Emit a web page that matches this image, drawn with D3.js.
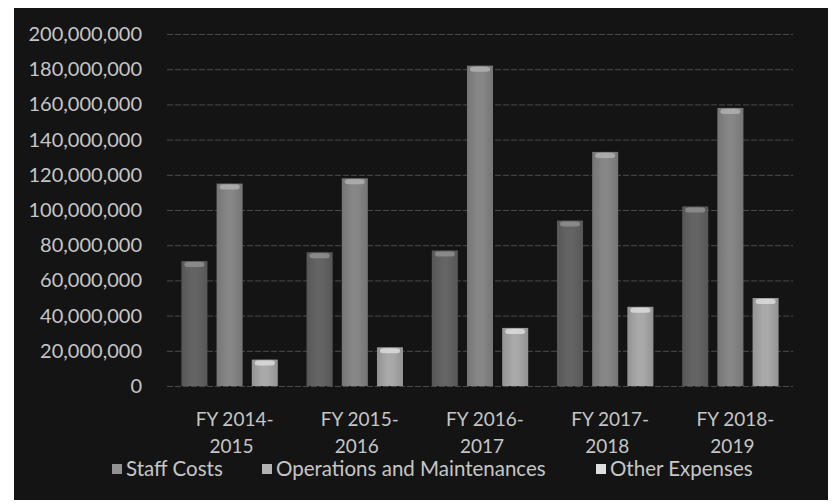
<!DOCTYPE html>
<html>
<head>
<meta charset="utf-8">
<script src="https://cdn.jsdelivr.net/npm/d3@7"></script>
<style>
  body { margin: 0; background: #ffffff; }
  svg { display: block; }
</style>
</head>
<body>
<div id="chart"></div>
<script>
const years = ["FY 2014-2015", "FY 2015-2016", "FY 2016-2017", "FY 2017-2018", "FY 2018-2019"];
const seriesNames = ["Staff Costs", "Operations and Maintenances", "Other Expenses"];
const staffCosts = [71000000, 76000000, 77000000, 94000000, 102000000];
const operations = [115000000, 118000000, 182000000, 133000000, 158000000];
const otherExpenses = [15000000, 22000000, 33000000, 45000000, 50000000];
const yTicks = [0, 20000000, 40000000, 60000000, 80000000, 100000000, 120000000, 140000000, 160000000, 180000000, 200000000];

const width = 838, height = 504;
const margin = { top: 34, right: 45, bottom: 118, left: 167 };
const innerWidth = width - margin.left - margin.right;
const innerHeight = height - margin.top - margin.bottom;

const barColors = ["#646464", "#878787", "#a9a9a9"];
const capColors = ["#929292", "#b3b3b3", "#dedede"];
const textColor = "#c6c6c6";
const fontFamily = "Lato, 'Open Sans', sans-serif";

const values = [staffCosts, operations, otherExpenses];
const rows = years.map((y, i) => ({ year: y, vals: values.map((v, s) => ({ s, v: v[i] })) }));

const svg = d3.select("#chart").append("svg")
    .attr("width", width)
    .attr("height", height);

// dark backdrop of the photo
svg.append("rect")
    .attr("x", 14).attr("y", 8)
    .attr("width", 814).attr("height", 492)
    .attr("fill", "#141414");

const defs = svg.append("defs");
barColors.forEach((c, i) => {
    const g = defs.append("linearGradient")
        .attr("id", "bar" + i)
        .attr("x1", "0").attr("x2", "1").attr("y1", "0").attr("y2", "0");
    g.append("stop").attr("offset", "0%").attr("stop-color", d3.color(c).darker(0.4));
    g.append("stop").attr("offset", "40%").attr("stop-color", c);
    g.append("stop").attr("offset", "60%").attr("stop-color", c);
    g.append("stop").attr("offset", "100%").attr("stop-color", d3.color(c).darker(0.4));
});

const chart = svg.append("g")
    .attr("transform", `translate(${margin.left},${margin.top})`);

const y = d3.scaleLinear()
    .domain([0, 200000000])
    .range([innerHeight, 0]);

const x0 = d3.scaleBand()
    .domain(years)
    .range([0, innerWidth])
    .paddingInner(0.23)
    .paddingOuter(0.115);

const x1 = d3.scaleBand()
    .domain(d3.range(seriesNames.length))
    .range([0, x0.bandwidth()])
    .paddingInner(0.26);

// gridlines
chart.append("g")
    .call(d3.axisLeft(y).tickValues(yTicks).tickSize(-innerWidth).tickFormat(""))
    .call(g => g.select(".domain").remove())
    .call(g => g.selectAll("line")
        .attr("stroke", "#4a4a4a")
        .attr("stroke-width", 1)
        .attr("stroke-dasharray", "6,2"));

// y labels
chart.append("g")
    .call(d3.axisLeft(y).tickValues(yTicks).tickSize(0).tickPadding(25).tickFormat(d3.format(",")))
    .call(g => g.select(".domain").remove())
    .call(g => g.selectAll("text")
        .attr("fill", textColor)
        .style("font-family", fontFamily)
        .style("font-size", "20px"));

// bars
const groups = chart.selectAll(".grp")
    .data(rows)
    .enter().append("g")
    .attr("class", "grp")
    .attr("transform", d => `translate(${x0(d.year)},0)`);

groups.selectAll("rect.bar")
    .data(d => d.vals)
    .enter().append("rect")
    .attr("class", "bar")
    .attr("x", d => x1(d.s))
    .attr("y", d => y(d.v))
    .attr("width", x1.bandwidth())
    .attr("height", d => innerHeight - y(d.v))
    .attr("fill", d => `url(#bar${d.s})`);

groups.selectAll("rect.cap")
    .data(d => d.vals)
    .enter().append("rect")
    .attr("class", "cap")
    .attr("x", d => x1(d.s) + 3)
    .attr("y", d => y(d.v) + 1)
    .attr("width", x1.bandwidth() - 6)
    .attr("height", 5)
    .attr("rx", 3)
    .attr("fill", d => capColors[d.s])
    .attr("opacity", 0.8);

// category labels, two lines each
const xAxisG = chart.append("g")
    .attr("transform", `translate(0,${innerHeight})`);

xAxisG.selectAll("text.l1")
    .data(years)
    .enter().append("text")
    .attr("class", "l1")
    .attr("x", d => x0(d) + x0.bandwidth() / 2 + 5)
    .attr("y", 40)
    .attr("text-anchor", "middle")
    .attr("fill", textColor)
    .style("font-family", fontFamily)
    .style("font-size", "19px")
    .text(d => d.split("-")[0] + "-");

xAxisG.selectAll("text.l2")
    .data(years)
    .enter().append("text")
    .attr("class", "l2")
    .attr("x", d => x0(d) + x0.bandwidth() / 2 + 2)
    .attr("y", 67)
    .attr("text-anchor", "middle")
    .attr("fill", textColor)
    .style("font-family", fontFamily)
    .style("font-size", "19px")
    .text(d => d.split("-")[1]);

// legend
const legendX = [112, 262, 596];
const legend = svg.append("g")
    .selectAll("g")
    .data(seriesNames)
    .enter().append("g")
    .attr("transform", (d, i) => `translate(${legendX[i]},469)`);

legend.append("rect")
    .attr("x", 0).attr("y", -5)
    .attr("width", 10).attr("height", 10)
    .attr("fill", (d, i) => capColors[i]);

legend.append("text")
    .attr("x", 14)
    .attr("y", 0)
    .attr("dy", "0.35em")
    .attr("fill", textColor)
    .style("font-family", fontFamily)
    .style("font-size", "20.5px")
    .text(d => d);
</script>
</body>
</html>
